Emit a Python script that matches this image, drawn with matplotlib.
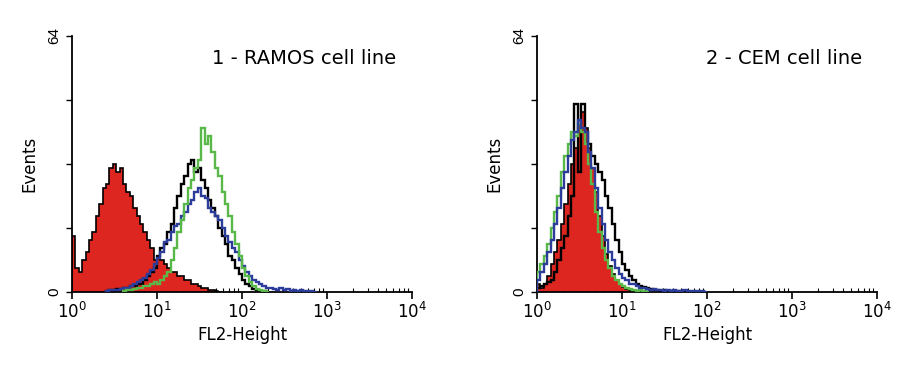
import numpy as np
import matplotlib.pyplot as plt

# histogram channels: 4 log decades, 0.04 decade per channel
step = 0.04
edges_log = np.arange(0, 4.0 + step / 2, step)

# ---- panel 1: RAMOS (start channel, counts) ----
ramos_red = (0, [14, 6, 5, 8, 10, 13, 15, 19, 22, 26, 27, 31, 32, 30, 31, 27, 25, 24, 21, 19,
                 17, 15, 13, 11, 8, 9, 8, 7, 6, 5, 5, 4, 4, 3, 3, 2, 2, 1.5, 1, 1,
                 0.5, 0.5, 0.3, 0])
ramos_black = (10, [0.3, 0.5, 0.5, 0.8, 0.5, 1, 1, 1.5, 1.5, 2, 2, 3, 4, 5, 6, 9, 11, 12, 15, 17,
                    21, 24, 27, 29, 32, 33, 30, 31, 28, 26, 23, 21, 19, 16, 14, 12, 9, 8, 6, 4.5,
                    3, 2, 1.5, 0.8, 0.5, 0.3, 0.3, 0])
ramos_green = (15, [0.3, 0.5, 0.5, 0.8, 1, 1, 1.5, 1.5, 2, 2.5, 2, 3, 4, 5, 8, 11, 15, 18, 22, 26,
                    28, 31, 33, 41, 37, 39, 35, 31, 29, 25, 22, 19, 15, 12, 9, 6, 4, 2.5, 1.5, 0.8,
                    0.5, 0.3, 0])
ramos_blue = (10, [0.3, 0.5, 0.5, 0.5, 0.8, 1, 1, 1.5, 2, 2.5, 3, 3.5, 4.5, 5.5, 7, 8.5, 10, 12.5, 13, 15,
                   16.5, 17, 19, 20, 22, 23, 25, 26, 24, 23.5, 21, 20, 19, 18, 16, 14, 12.5, 11, 10, 8,
                   6.5, 5, 4, 3, 2.5, 2, 1.5, 1, 1, 0.8, 0.5, 1, 0.5, 0.8, 0.3, 0.5, 0.3, 0.5, 0.2, 0.3,
                   0.2, 0])

# ---- panel 2: CEM ----
cem_red = (0, [2, 1, 2, 4, 7, 10, 13, 17, 22, 27, 32, 36, 42, 45, 41, 36, 31, 25, 19, 14,
               9.5, 6.5, 4.5, 3, 2, 1.2, 0.8, 0.5, 0.3, 0])
cem_green = (0, [5, 7, 9, 12, 16, 20, 24, 30, 34, 37, 40, 39, 42, 40, 37, 32, 27, 20, 15, 11,
                 8, 6, 4, 3, 2, 1.5, 1, 0.8, 0.5, 0.3, 0.5, 0.2, 0])
cem_blue = (0, [3, 5, 7, 10, 13, 17, 21, 26, 30, 34, 38, 40, 43, 41, 40, 35, 31, 26, 21, 17,
                13, 10, 8, 6, 4.5, 3.5, 3, 2, 2, 1.5, 1, 1, 0.8, 0.5, 0.8, 0.5, 0.5, 0.3, 0.5, 0.3,
                0.5, 0.2, 0.3, 0.5, 0.2, 0.3, 0.2, 0.3, 0.2, 0])
cem_black = (0, [1, 1.5, 2, 2.5, 3, 5, 8, 11, 14, 19, 24, 47, 30, 47, 40, 37, 34, 32, 30, 28,
                 24, 21, 17, 13, 10, 7, 5.5, 4, 3, 2, 1.5, 1.2, 1, 0.8, 0.5, 0.5, 0.3, 0.5, 0.3, 0.3,
                 0.2, 0.3, 0.2, 0])

titles = ['1 - RAMOS cell line', '2 - CEM cell line']
xtick_vals = [1, 10, 100, 1000, 10000]
xtick_labels = ['$10^{0}$', '$10^{1}$', '$10^{2}$', '$10^{3}$', '$10^{4}$']
ytick_vals = [0, 16, 32, 48, 64]
ytick_labels = ['0', '', '', '', '64']

RED = '#de2620'
GREEN = '#58b848'
BLUE = '#2b3c9a'


def edges_for(series):
    start, counts = series
    lo = edges_log[start:start + len(counts) + 1]
    return np.array(counts, dtype=float), 10 ** lo


def draw_panel(ax, red, lines, title, tx):
    c, e = edges_for(red)
    ax.stairs(c, e, fill=True, color=RED, lw=0, zorder=2)
    ax.stairs(c, e, color='black', lw=1.2, zorder=3)
    for s, col in lines:
        c, e = edges_for(s)
        ax.stairs(c, e, color=col, lw=1.7, zorder=4)

    ax.set_xscale('log')
    ax.set_xlim(1, 10000)
    ax.set_ylim(0, 64)
    for sp in ['top', 'right']:
        ax.spines[sp].set_visible(False)
    for sp in ['left', 'bottom']:
        ax.spines[sp].set_linewidth(1.3)
    ax.set_xticks(xtick_vals)
    ax.set_xticklabels(xtick_labels, fontsize=12, family='DejaVu Sans')
    ax.set_yticks(ytick_vals)
    ax.set_yticklabels(ytick_labels, fontsize=11, rotation=90, va='center',
                       family='Liberation Sans')
    ax.tick_params(axis='x', which='major', direction='out', length=5, width=1.2, pad=2)
    ax.tick_params(axis='x', which='minor', direction='in', length=3, width=0.8)
    ax.tick_params(axis='y', direction='out', length=4, width=1.0, pad=4)
    ax.set_xlabel('FL2-Height', fontsize=12, labelpad=3)
    ax.set_ylabel('Events', fontsize=12, labelpad=6)
    ax.text(tx, 0.914, title, transform=ax.transAxes, ha='center', va='center',
            fontsize=14, family='DejaVu Sans')


fig = plt.figure(figsize=(9.21, 3.66), dpi=100)
ax1 = fig.add_axes([72 / 921, 74 / 366, 340 / 921, 256 / 366])
ax2 = fig.add_axes([537 / 921, 74 / 366, 340 / 921, 256 / 366])

draw_panel(ax1, ramos_red, [(ramos_black, 'black'), (ramos_blue, BLUE), (ramos_green, GREEN)],
           titles[0], 0.682)
draw_panel(ax2, cem_red, [(cem_black, 'black'), (cem_green, GREEN), (cem_blue, BLUE)],
           titles[1], 0.726)

fig.savefig('out.png', dpi=100)
